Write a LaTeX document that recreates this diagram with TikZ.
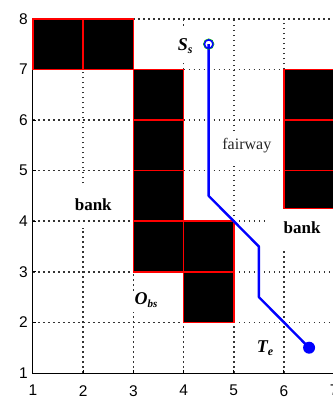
\documentclass[tikz,border=0pt]{standalone}
\usepackage{fontspec}
\setmainfont{Liberation Serif}
\newfontfamily\axisfont{Liberation Sans}
\usetikzlibrary{positioning}

\begin{document}
\begin{tikzpicture}[x=50.2pt, y=50.6pt,
        obst/.style={fill=black},
        borde/.style={draw=red, line width=1.5pt},
        rejilla/.style={line width=1.6pt, black!80, dash pattern=on 1.6pt off 3.4pt},
        eje/.style={line width=1pt, black},
        tick/.style={font=\axisfont\fontsize{15.5}{15.5}\selectfont, inner sep=0pt},
        zona/.style={font=\fontsize{17}{17}\selectfont\bfseries, inner sep=0pt},
        marca/.style={font=\fontsize{18}{18}\selectfont\bfseries\itshape, inner sep=0pt},
        ruta/.style={blue, line width=2.4pt, line join=round}
    ]
        \useasboundingbox (0.3426,0.506) rectangle (6.976,8.372);
        \clip (0.3426,0.506) rectangle (6.976,8.372);
        % rejilla
        \draw[rejilla] (2,1) -- (2,3.87) (2,4.75) -- (2,7);
        \draw[rejilla] (3,1) -- (3,2.2) (3,2.62) -- (3,3);
        \draw[rejilla] (4,1) -- (4,2) (4,7) -- (4,7.12) (4,7.86) -- (4,8);
        \draw[rejilla] (5,1) -- (5,2) (5,4) -- (5,5.1) (5,5.78) -- (5,8);
        \draw[rejilla] (6,1) -- (6,3.45) (6,7) -- (6,8);
        \draw[rejilla] (1,2) -- (4,2) (5,2) -- (7,2);
        \draw[rejilla] (1,3) -- (3,3) (5,3) -- (7,3);
        \draw[rejilla] (1,4) -- (3,4) (5,4) -- (5.68,4);
        \draw[rejilla] (1,5) -- (3,5) (4,5) -- (6,5);
        \draw[rejilla] (1,6) -- (3,6) (4,6) -- (6,6);
        \draw[rejilla] (4,7) -- (6,7) (3,8) -- (7,8);
        % ejes
        \draw[eje] (1,7) -- (1,1) -- (7,1);
        \foreach \y in {2,...,7} \draw[eje] (1,\y) -- ++(3pt,0);
        \foreach \x in {2,...,7} \draw[eje] (\x,1) -- ++(0,3pt);
        \foreach \y in {1,...,8} \node (ty\y) [tick, anchor=east] at (0.9,\y) {\y};
        \foreach \x in {1,...,7} \node (tx\x) [tick, anchor=north] at (\x,0.763) {\x};
        % obstaculos
        \foreach \a/\b in {1/7, 2/7, 3/3, 3/4, 3/5, 3/6, 4/2, 4/3, 6/6, 6/5}
            \fill[obst] (\a,\b) rectangle ++(1,1);
        \fill[obst] (6,4.25) rectangle (7,5);
        \foreach \a/\b in {1/7, 2/7, 3/3, 3/4, 3/5, 3/6, 4/2, 4/3, 6/6, 6/5}
            \draw[borde] (\a,\b) rectangle ++(1,1);
        \draw[borde] (6,4.25) rectangle (7,5);
        % textos
        \node (bankL) [zona] at (2.2,4.32) {bank};
        \node (bankR) [zona] at (6.36,3.87) {bank};
        \node (fair) [inner sep=0pt, font=\fontsize{16}{16}\selectfont, black!85] at (5.26,5.49) {fairway};
        \node (lss) [marca] at (4.03,7.46) {S\raisebox{-0.3ex}{\fontsize{12}{12}\selectfont s}};
        \node (lobs) [marca] at (3.25,2.44) {O\raisebox{-0.3ex}{\fontsize{11}{11}\selectfont bs}};
        \node (lte) [marca] at (5.62,1.49) {T\raisebox{-0.3ex}{\fontsize{12}{12}\selectfont e}};
        % trayectoria
        \coordinate (ss) at (4.5,7.5);
        \coordinate (q1) at (4.5,4.5);
        \coordinate (q2) at (5.5,3.5);
        \coordinate (q3) at (5.5,2.5);
        \coordinate (te) at (6.5,1.5);
        \draw[ruta] (ss) -- (q1) -- (q2) -- (q3) -- (te);
        \node (ini) [circle, draw=green!70!black, line width=0.7pt, minimum size=10.5pt, inner sep=0pt] at (ss) {};
        \node (ini2) [circle, draw=blue, line width=1.5pt, minimum size=8.5pt, inner sep=0pt] at (ss) {};
        \node (fin) [circle, fill=blue, minimum size=12pt, inner sep=0pt] at (te) {};
    \end{tikzpicture}
\end{document}
